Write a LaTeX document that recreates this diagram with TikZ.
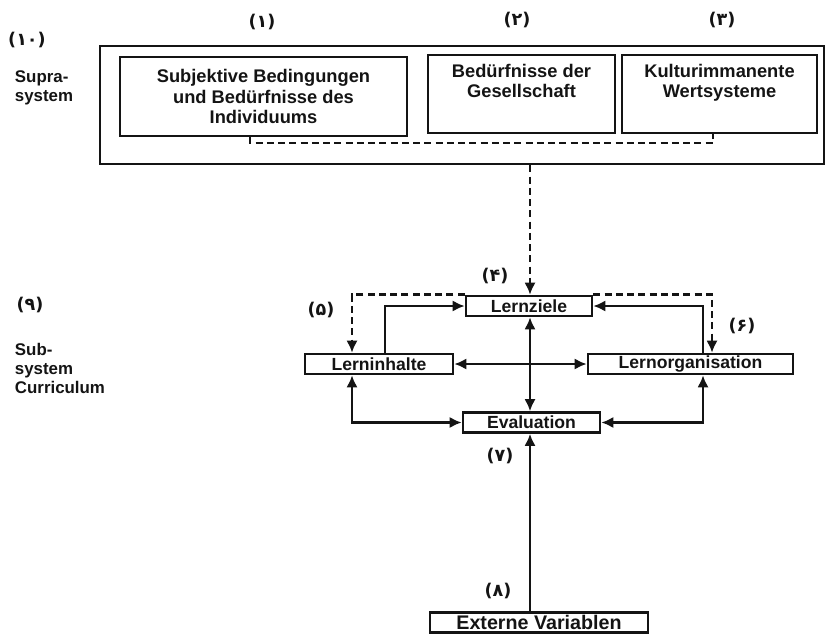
\documentclass[tikz,border=0pt]{standalone}
\usepackage{fontspec}
\setmainfont{Liberation Sans}
\newfontfamily\numfont{DejaVu Sans}
\usepackage{xcolor}
\definecolor{cInk}{HTML}{141414}
\usepackage{tikz}
\usetikzlibrary{positioning,arrows.meta}
\tikzset{
  node-outer/.style={draw=cInk,line width=1.8pt,inner sep=0pt},
  node-top/.style={draw=cInk,line width=1.8pt,align=center,inner sep=0pt,
    text=cInk,font=\fontsize{13}{14.4}\selectfont\bfseries},
  node-flat/.style={draw=cInk,line width=1.8pt,minimum height=5mm,inner sep=0pt,
    text=cInk,font=\fontsize{12.5}{14}\selectfont\bfseries},
  node-num/.style={text=cInk,font=\numfont\fontsize{12.5}{14}\selectfont\bfseries},
  node-side/.style={align=left,text=cInk,font=\fontsize{12}{13.5}\selectfont\bfseries},
  % alle Pfeile mit gefuellter Spitze
  arrow/.style={-{Latex[length=3mm,width=2.8mm]},line width=1.8pt,draw=cInk},
  arrow-both/.style={{Latex[length=3mm,width=2.8mm]}-{Latex[length=3mm,width=2.8mm]},
    line width=1.8pt,draw=cInk},
  arrow-dash/.style={arrow,dash pattern=on 5pt off 3pt},
  line-dash/.style={line width=1.4pt,draw=cInk,dash pattern=on 5pt off 3pt},
}

\begin{document}
\begin{tikzpicture}[x=0.025cm,y=-0.025cm]
  \useasboundingbox (0,0) rectangle (828,638);
  % Suprasystem
  \node[node-outer,minimum width=18.1cm,minimum height=2.95cm] (supra) at (462,105) {};
  \node[node-top,minimum width=7.175cm,minimum height=1.975cm] (indiv) at (263.5,96.5)
       {Subjektive Bedingungen\\und Bedürfnisse des\\Individuums};
  \node[node-top,minimum width=4.675cm,minimum height=1.95cm] (gesell) at (521.5,94)
       {Bedürfnisse der\\Gesellschaft\\\strut};
  \node[node-top,minimum width=4.875cm,minimum height=1.95cm] (kultur) at (719.5,94)
       {Kulturimmanente\\Wertsysteme\\\strut};
  \node[node-num] (n10) at (27,40) {(۱۰)};
  \node[node-num] (n1) at (262,22) {(۱)};
  \node[node-num] (n2) at (517,20) {(۲)};
  \node[node-num] (n3) at (722,20) {(۳)};
  \node[node-side,anchor=west] (supra-lbl) at (10,88) {Supra-\\system};
  \coordinate (d1) at (250,143);
  \coordinate (d2) at (713,143);
  \draw[line-dash] (indiv.south -| d1) -- (d1) -- (d2) -- (kultur.south -| d2);

  % Subsystem Curriculum
  \coordinate (col-a) at (352,0);
  \coordinate (col-b) at (385,0);
  \coordinate (col-m) at (530,0);
  \coordinate (col-c) at (703,0);
  \coordinate (col-d) at (712,0);
  \node[node-flat,minimum width=3.15cm] (ziele) at (529,306) {Lernziele};
  \node[node-flat,minimum width=3.7cm] (inhalte) at (379,364) {Lerninhalte};
  \node[node-flat,minimum width=5.125cm] (organ) at (690.5,364) {Lernorganisation};
  \node[node-flat,minimum width=3.425cm] (eval) at (531.5,422.5) {Evaluation};
  \node[node-flat,minimum width=5.45cm,font=\fontsize{14}{14}\selectfont\bfseries]
       (extern) at (539,622.5) {Externe Variablen};
  \node[node-num] (n4) at (495,276) {(۴)};
  \node[node-num] (n5) at (321,310) {(۵)};
  \node[node-num] (n6) at (742,326) {(۶)};
  \node[node-num] (n7) at (500,456) {(۷)};
  \node[node-num] (n8) at (498,591) {(۸)};
  \node[node-num] (n9) at (30,305) {(۹)};
  \node[node-side,anchor=west] (sub-lbl) at (10,368) {Sub-\\system\\Curriculum};

  \draw[arrow-dash] (supra.south -| col-m) -- (ziele.north -| col-m);
  \draw[arrow-dash] (ziele.north west) -| (inhalte.north -| col-a);
  \draw[arrow-dash] (ziele.north east) -| (organ.north -| col-d);
  \draw[arrow] (inhalte.north -| col-b) |- (ziele.west);
  \draw[arrow] (organ.north -| col-c) |- (ziele.east);
  \draw[arrow-both] (inhalte.east) -- (organ.west);
  \draw[arrow-both] (ziele.south -| col-m) -- (eval.north -| col-m);
  \draw[arrow-both] (inhalte.south -| col-a) |- (eval.west);
  \draw[arrow-both] (organ.south -| col-c) |- (eval.east);
  \draw[arrow] (extern.north -| col-m) -- (eval.south -| col-m);
\end{tikzpicture}
\end{document}
